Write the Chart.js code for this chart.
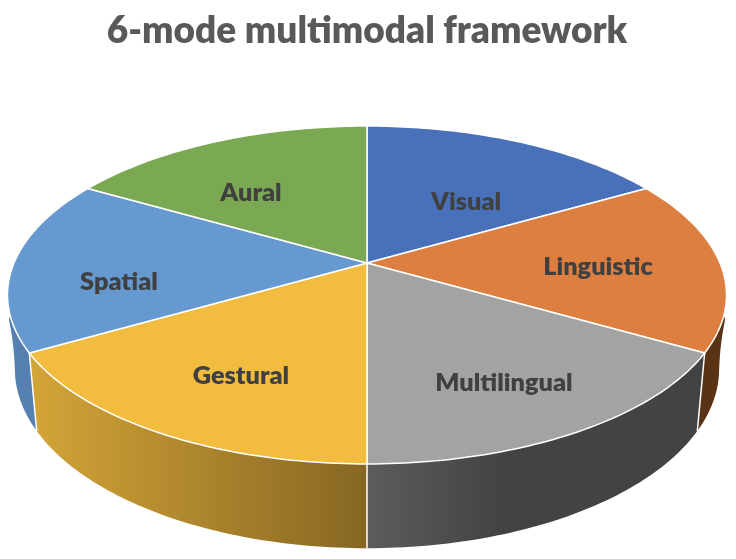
<!DOCTYPE html>
<html>
<head>
<meta charset="utf-8">
<title>6-mode multimodal framework</title>
<script src="https://cdn.jsdelivr.net/npm/chart.js@4"></script>
<style>
  html, body { margin: 0; padding: 0; background: #fff; }
  canvas { display: block; }
</style>
</head>
<body>
<canvas id="modeChart" width="736" height="559"></canvas>
<script>
const chartTitle = '6-mode multimodal framework';
const modes = ['Visual', 'Linguistic', 'Multilingual', 'Gestural', 'Spatial', 'Aural'];
const shares = [1, 1, 1, 1, 1, 1];

const topColors = ['#4871BA', '#DD7F41', '#A3A3A3', '#F2BC3F', '#6699CF', '#7BA953'];
// side wall colours, left to right across the slice
const wallColors = [
    ['#2B4470', '#2B4470'],
    ['#5A3214', '#5A3214'],
    ['#5C5C5C', '#434343'],
    ['#D4A538', '#866622'],
    ['#5580B0', '#5580B0'],
    ['#4A6632', '#4A6632']
];
// label centres in page pixels
const labelSpots = [[466, 202], [598, 267], [504, 383], [241, 376], [119, 282], [251, 193]];

//perspective of the tilted disc, fitted to the rim of the picture
function project(u, v, z) {
    const w = 1 - 0.1893 * v + 0.0202 * z;
    //the lower rim bulges out a little at the far left and right
    const t = Math.min(1, Math.max(0, (0.2 - v) / 0.3));
    const bulge = 1 + 0.06 * t * t * z;
    return {
        x: 367 + 353 * u / w * bulge,
        y: (263 + 113.1 * v + 79.4 * z) / w
    };
}

function rimPoints(start, end, z) {
    let pts = [];
    for (let i = 0; i <= 60; i++) {
        const a = start + (end - start) * i / 60;
        pts.push(project(Math.cos(a), Math.sin(a), z));
    }
    return pts;
}

function tracePoints(ctx, pts) {
    pts.forEach((p, i) => {
        if (i === 0) ctx.moveTo(p.x, p.y);
        else ctx.lineTo(p.x, p.y);
    });
}

// Draws the pie slices Chart.js laid out, but tilted and with a side wall
const tiltedPie = {
    id: 'tiltedPie',
    beforeDatasetDraw(chart, args) {
        const ctx = chart.ctx;
        const arcs = chart.getDatasetMeta(args.index).data;
        ctx.save();
        ctx.lineJoin = 'round';

        //walls first, the top faces cover whatever is behind
        arcs.forEach((arc, i) => {
            const top = rimPoints(arc.startAngle, arc.endAngle, 0);
            const bottom = rimPoints(arc.startAngle, arc.endAngle, 1);
            const xs = top.concat(bottom).map(p => p.x);
            const grad = ctx.createLinearGradient(Math.min(...xs), 0, Math.max(...xs), 0);
            grad.addColorStop(0, wallColors[i][0]);
            grad.addColorStop(i === 2 ? 0.4 : 1, wallColors[i][1]);
            if (i === 2) grad.addColorStop(1, wallColors[i][1]);
            ctx.beginPath();
            tracePoints(ctx, top.concat(bottom.reverse()));
            ctx.closePath();
            ctx.fillStyle = grad;
            ctx.fill();
        });

        //white edges where the front slices meet
        arcs.forEach(arc => {
            const a = arc.startAngle;
            if (Math.sin(a) < 0.1) return;
            const p1 = project(Math.cos(a), Math.sin(a), 0);
            const p2 = project(Math.cos(a), Math.sin(a), 1);
            ctx.beginPath();
            ctx.moveTo(p1.x, p1.y);
            ctx.lineTo(p2.x, p2.y);
            ctx.strokeStyle = '#fff';
            ctx.lineWidth = 1.5;
            ctx.stroke();
        });

        arcs.forEach((arc, i) => {
            ctx.beginPath();
            tracePoints(ctx, [project(0, 0, 0)].concat(rimPoints(arc.startAngle, arc.endAngle, 0)));
            ctx.closePath();
            ctx.fillStyle = topColors[i];
            ctx.fill();
            ctx.strokeStyle = '#fff';
            ctx.lineWidth = 1.5;
            ctx.stroke();
        });

        ctx.font = '800 25.3px Lato';
        ctx.fillStyle = '#404040';
        ctx.textAlign = 'center';
        ctx.textBaseline = 'middle';
        modes.forEach((name, i) => {
            ctx.fillText(name, labelSpots[i][0], labelSpots[i][1]);
        });

        ctx.restore();
        return false;
    }
};

new Chart(document.getElementById('modeChart'), {
    type: 'pie',
    data: {
        labels: modes,
        datasets: [{ data: shares, backgroundColor: topColors, borderWidth: 0 }]
    },
    options: {
        responsive: false,
        animation: false,
        events: [],
        layout: { padding: { right: 2 } },
        plugins: {
            legend: { display: false },
            tooltip: { enabled: false },
            title: {
                display: true,
                text: chartTitle,
                color: '#595959',
                font: { family: 'Lato', size: 37, weight: 800 },
                padding: { top: 9, bottom: 10 }
            }
        }
    },
    plugins: [tiltedPie]
});
</script>
</body>
</html>
